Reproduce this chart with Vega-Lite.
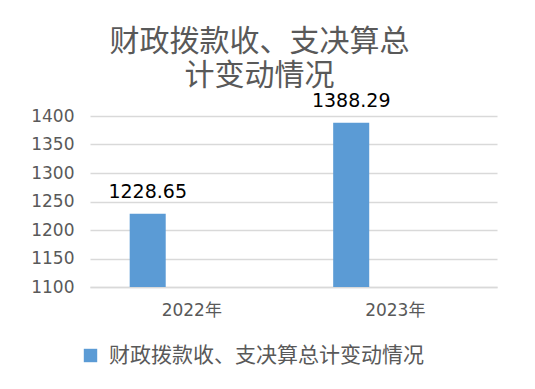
{
  "$schema": "https://vega.github.io/schema/vega-lite/v6.json",
  "width": 407,
  "height": 171,
  "autosize": {"type": "none"},
  "padding": {"left": 90, "top": 116, "right": 38, "bottom": 102},
  "background": "white",
  "config": {"view": {"stroke": null}},
  "title": {
    "text": ["财政拨款收、支决算总", "计变动情况"],
    "font": "Noto Sans CJK SC",
    "fontSize": 30,
    "fontWeight": "normal",
    "lineHeight": 34,
    "color": "#595959",
    "anchor": "middle",
    "dx": -34,
    "offset": 1
  },
  "data": {
    "values": [
      {"year": "2022年", "series": "财政拨款收、支决算总计变动情况", "value": 1228.65},
      {"year": "2023年", "series": "财政拨款收、支决算总计变动情况", "value": 1388.29}
    ]
  },
  "encoding": {
    "x": {
      "field": "year",
      "type": "nominal",
      "scale": {"paddingInner": 0.39, "paddingOuter": 0.195},
      "axis": {
        "title": null,
        "labelAngle": 0,
        "labelFont": "DejaVu Sans, Noto Sans CJK SC",
        "labelFontSize": 17,
        "labelColor": "#595959",
        "labelPadding": 15,
        "ticks": false,
        "domainColor": "#d9d9d9",
        "domainWidth": 1.5
      }
    },
    "xOffset": {
      "field": "series",
      "type": "nominal",
      "scale": {"domain": ["财政拨款收、支决算总计变动情况", "空"], "paddingInner": 0.591, "paddingOuter": 0}
    },
    "y": {
      "field": "value",
      "type": "quantitative",
      "scale": {"domain": [1100, 1400], "nice": false, "zero": false},
      "axis": {
        "title": null,
        "values": [1100, 1150, 1200, 1250, 1300, 1350, 1400],
        "format": "d",
        "labelFont": "DejaVu Sans",
        "labelFontSize": 17,
        "labelColor": "#595959",
        "labelPadding": 16,
        "ticks": false,
        "domain": false,
        "gridColor": "#d9d9d9",
        "gridWidth": 1.5
      }
    }
  },
  "layer": [
    {
      "mark": {"type": "bar", "color": "#5b9bd5", "clip": true},
      "encoding": {
        "color": {
          "field": "series",
          "type": "nominal",
          "scale": {"range": ["#5b9bd5"]},
          "legend": {
            "title": null,
            "orient": "none",
            "legendX": -10,
            "legendY": 229,
            "symbolType": "square",
            "symbolSize": 180,
            "symbolStrokeWidth": 0,
            "labelFont": "Noto Sans CJK SC",
            "labelFontSize": 21,
            "labelColor": "#595959",
            "labelOffset": 8,
            "labelLimit": 500
          }
        }
      }
    },
    {
      "mark": {"type": "text", "baseline": "alphabetic", "dy": -16, "font": "DejaVu Sans", "fontSize": 19, "color": "#000000"},
      "encoding": {"text": {"field": "value", "type": "quantitative", "format": ".2f"}}
    }
  ]
}
